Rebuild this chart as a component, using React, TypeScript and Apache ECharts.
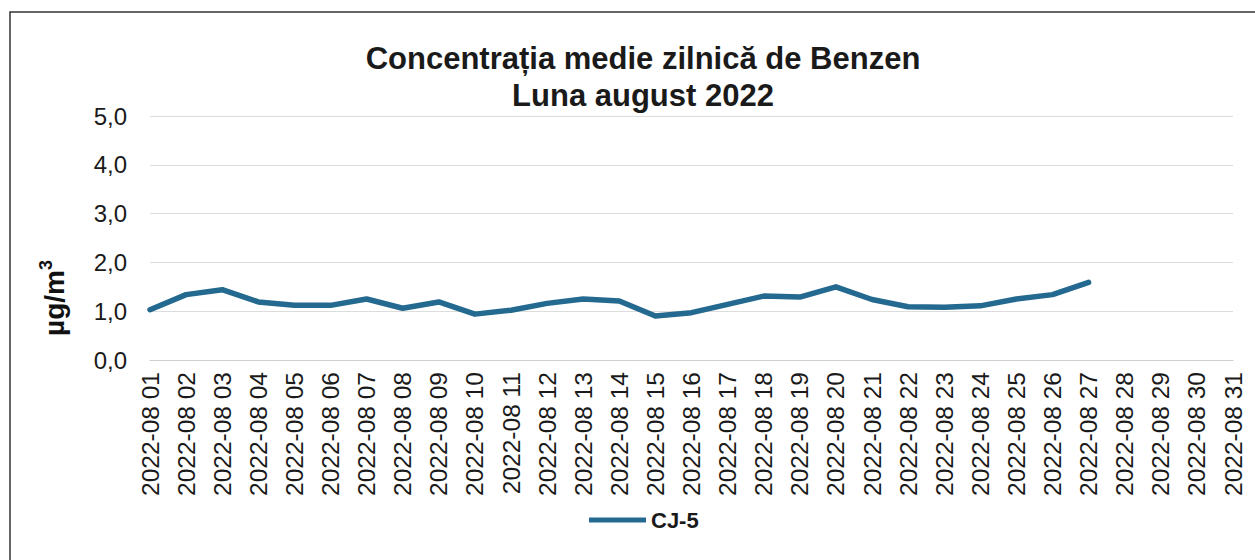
import React, { useEffect, useRef } from "react";
import * as echarts from "echarts";

const titleLines = ["Concentrația medie zilnică de Benzen", "Luna august 2022"];
const seriesName = "CJ-5";
const days = [
  "01","02","03","04","05","06","07","08","09","10","11","12","13","14","15","16",
  "17","18","19","20","21","22","23","24","25","26","27","28","29","30","31",
];
const categories = days.map((d) => `2022-08 ${d}`);
const cj5Values: (number | null)[] = [
  1.03, 1.34, 1.44, 1.19, 1.12, 1.12, 1.25, 1.06, 1.19, 0.94, 1.02, 1.16, 1.25, 1.21,
  0.9, 0.97, 1.14, 1.31, 1.29, 1.5, 1.24, 1.09, 1.08, 1.11, 1.25, 1.34, 1.59,
  null, null, null, null,
];
const yTicks = { min: 0, max: 5, interval: 1 };

export default function App() {
  const ref = useRef<HTMLDivElement>(null);
  useEffect(() => {
    document.body.style.margin = "0";
    if (!ref.current) return;
    const chart = echarts.init(ref.current, undefined, { renderer: "svg" });
    const font = "'Liberation Sans', Arial, sans-serif";
    chart.setOption({
      animation: false,
      backgroundColor: "#ffffff",
      textStyle: { fontFamily: font },
      title: {
        text: titleLines.join("\n"),
        left: 638,
        textAlign: "center",
        top: 35,
        textStyle: {
          fontFamily: font,
          fontWeight: "bold",
          fontSize: 31,
          lineHeight: 37,
          color: "#1a1a1a",
        },
      },
      graphic: [
        {
          type: "rect",
          shape: { x: 10, y: 12, width: 1300, height: 600 },
          style: { fill: "none", stroke: "#333", lineWidth: 1.5 },
          silent: true,
        },
        {
          type: "text",
          x: 54,
          y: 298,
          rotation: Math.PI / 2,
          style: {
            text: "{b|µg/m}{s|3}",
            align: "center",
            verticalAlign: "middle",
            rich: {
              b: { fontFamily: font, fontWeight: "bold", fontSize: 28, fill: "#111" },
              s: {
                fontFamily: font,
                fontWeight: "bold",
                fontSize: 18,
                fill: "#111",
                verticalAlign: "top",
                padding: [0, 0, 16, 0],
              },
            },
          },
        },
      ],
      legend: {
        bottom: 24,
        left: 584,
        icon: "rect",
        itemWidth: 57,
        itemHeight: 5,
        itemGap: 4,
        data: [seriesName],
        textStyle: { fontFamily: font, fontWeight: "bold", fontSize: 22, color: "#1a1a1a" },
      },
      grid: { left: 150, right: 22, top: 116, bottom: 200, containLabel: false },
      xAxis: {
        type: "category",
        data: categories,
        boundaryGap: false,
        axisLine: { show: true, lineStyle: { color: "#cfcfcf" } },
        axisTick: { show: false },
        axisLabel: {
          rotate: 90,
          interval: 0,
          margin: 12,
          fontFamily: font,
          fontSize: 24.5,
          color: "#1a1a1a",
        },
      },
      yAxis: {
        type: "value",
        min: yTicks.min,
        max: yTicks.max,
        interval: yTicks.interval,
        axisLine: { show: false },
        axisTick: { show: false },
        splitLine: { lineStyle: { color: "#dcdcdc", width: 1 } },
        axisLabel: {
          margin: 23,
          fontFamily: font,
          fontSize: 24,
          color: "#1a1a1a",
          formatter: (v: number) => v.toFixed(1).replace(".", ","),
        },
      },
      series: [
        {
          name: seriesName,
          type: "line",
          data: cj5Values,
          symbol: "none",
          showSymbol: false,
          connectNulls: false,
          itemStyle: { color: "#24698f" },
          lineStyle: { color: "#24698f", width: 5.5, cap: "round", join: "round" },
        },
      ],
    });
    return () => chart.dispose();
  }, []);
  return <div ref={ref} style={{ width: 1255, height: 560 }} />;
}
